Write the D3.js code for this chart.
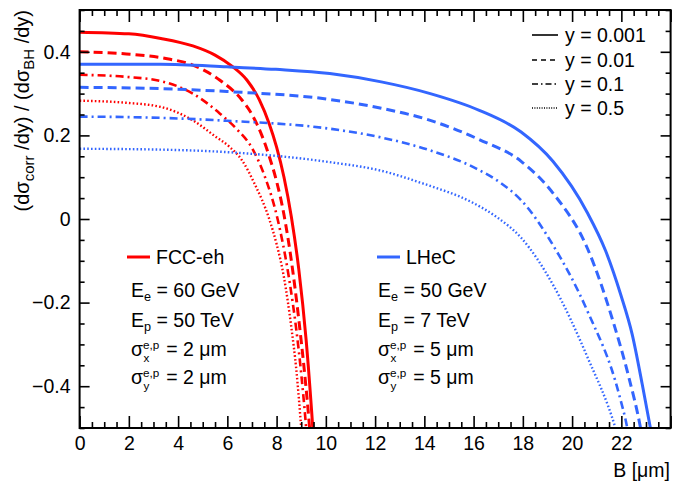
<!DOCTYPE html>
<html><head><meta charset="utf-8">
<script src="https://cdn.jsdelivr.net/npm/d3@7"></script>
<style>
body{margin:0;background:#fff}
text{font-family:"Liberation Sans",Arial,Helvetica,sans-serif;fill:#000}
</style>
</head><body>
<svg id="chart" width="675" height="482"></svg>
<script>
// ---------------- DATA ----------------
const xTickValues = [0,2,4,6,8,10,12,14,16,18,20,22];
const yTickValues = [-0.4,-0.2,0,0.2,0.4];
const yTickLabels = ["\u22120.4","\u22120.2","0","0.2","0.4"];

// FCC-eh (red)
const fccB_0001 = [0,2,3.3,4.6,5.5,6.2,6.8,7.3,7.7,8.0,8.3,8.6,8.9,9.2,9.47,9.55];
const fccV_0001 = [0.447,0.443,0.432,0.414,0.392,0.365,0.332,0.285,0.228,0.172,0.100,0.005,-0.120,-0.290,-0.500,-0.57];
const fccB_001 = [0,1.9,3.5,4.6,5.7,6.6,7.0,7.4,7.7,8.0,8.3,8.6,8.9,9.34,9.42];
const fccV_001 = [0.400,0.395,0.384,0.368,0.332,0.284,0.250,0.200,0.150,0.090,0.010,-0.100,-0.240,-0.500,-0.56];
const fccB_01 = [0,1.9,3.3,4.6,5.7,6.4,7.0,7.5,8.04,8.5,8.79,9.0,9.2,9.28];
const fccV_01 = [0.345,0.340,0.330,0.300,0.252,0.214,0.170,0.105,0.000,-0.140,-0.260,-0.370,-0.500,-0.56];
const fccB_05 = [0,1.9,3.3,4.6,5.5,6.1,6.6,7.1,7.7,8.0,8.3,8.6,8.8,9.0,9.08];
const fccV_05 = [0.283,0.278,0.268,0.236,0.198,0.172,0.140,0.085,0.000,-0.060,-0.140,-0.260,-0.360,-0.500,-0.56];

// LHeC (blue)
const lhecB_0001 = [0,3.29,5.98,7.97,10.16,12.25,14.24,16.23,17.93,19.22,20.62,21.36,21.97,22.44,22.85,23.18,23.3];
const lhecV_0001 = [0.370,0.370,0.364,0.358,0.348,0.328,0.300,0.260,0.208,0.138,0.015,-0.076,-0.180,-0.276,-0.396,-0.500,-0.54];
const lhecB_001 = [0,3.29,5.98,10.16,12.25,14.24,16.23,17.93,19.25,20.62,21.69,22.31,22.78,22.9];
const lhecV_001 = [0.315,0.312,0.305,0.286,0.265,0.236,0.190,0.138,0.060,-0.070,-0.250,-0.380,-0.500,-0.54];
const lhecB_01 = [0,3.29,5.98,10.16,12.25,14.24,16.13,17.13,17.93,19.25,20.62,21.91,22.24,22.36];
const lhecV_01 = [0.245,0.242,0.235,0.216,0.195,0.164,0.120,0.085,0.045,-0.065,-0.220,-0.420,-0.500,-0.54];
const lhecB_05 = [0,3.29,5.98,10.16,12.21,13.94,15.93,16.93,17.93,19.25,20.62,21.76,21.86];
const lhecV_05 = [0.168,0.166,0.160,0.136,0.116,0.085,0.040,0.005,-0.045,-0.160,-0.330,-0.500,-0.52];

const legendLabels = ["y = 0.001","y = 0.01","y = 0.1","y = 0.5"];

// ---------------- CHART ----------------
const svg = d3.select("#chart");
const X0 = 79.6, X1 = 670.6, Y0 = 10, Y1 = 428;
const x = d3.scaleLinear().domain([0,24]).range([X0,X1]);
const y = d3.scaleLinear().domain([-0.5,0.5]).range([Y1,Y0]);
const FS = 19.5;
const RED = "#ff0000", BLUE = "#3366ff";

const styles = [
  {dash:null, lw:3, legDash:null},
  {dash:"9,5", lw:3, legDash:"5,4"},
  {dash:"8,4,2,4", lw:2.6, legDash:"6,3,1.5,3"},
  {dash:"1.6,2.2", lw:2.4, legDash:"1,1.4"}
];

svg.append("defs").append("clipPath").attr("id","clip")
  .append("rect").attr("x",X0).attr("y",Y0).attr("width",X1-X0).attr("height",Y1-Y0);

const line = d3.line().x(d=>x(d[0])).y(d=>y(d[1])).curve(d3.curveMonotoneX);
const series = [
  [fccB_0001,fccV_0001,RED,0],[fccB_001,fccV_001,RED,1],[fccB_01,fccV_01,RED,2],[fccB_05,fccV_05,RED,3],
  [lhecB_0001,lhecV_0001,BLUE,0],[lhecB_001,lhecV_001,BLUE,1],[lhecB_01,lhecV_01,BLUE,2],[lhecB_05,lhecV_05,BLUE,3]
];
const gCurves = svg.append("g").attr("clip-path","url(#clip)");
series.forEach(([bs,vs,col,si])=>{
  const pts = bs.map((b,i)=>[b,vs[i]]);
  gCurves.append("path").datum(pts).attr("d",line)
    .attr("fill","none").attr("stroke",col).attr("stroke-width",styles[si].lw)
    .attr("stroke-dasharray",styles[si].dash);
});

// axes with inward ticks
const xMinor = d3.range(0,24.01,0.5).filter(v=>Math.abs(v/2-Math.round(v/2))>1e-6);
const yMinor = d3.range(-0.5,0.5001,0.05).map(v=>+v.toFixed(3)).filter(v=>Math.abs(v/0.2-Math.round(v/0.2))>1e-6);
const xMajAll = d3.range(0,24.01,2);

function axisG(axis, tr){ const g=svg.append("g").attr("transform",tr).call(axis); g.select(".domain").remove(); g.selectAll(".tick line").attr("stroke","#000").attr("stroke-width",1.6); return g; }
// bottom
const gb = axisG(d3.axisBottom(x).tickValues(xMajAll).tickSize(-12).tickPadding(8).tickFormat(d=> xTickValues.includes(d) ? d : ""), `translate(0,${Y1})`);
gb.selectAll("text").attr("font-size",FS).attr("font-family","Liberation Sans, Arial, sans-serif").attr("fill","#000");
axisG(d3.axisBottom(x).tickValues(xMinor).tickSize(-6).tickFormat(""), `translate(0,${Y1})`);
// top
axisG(d3.axisTop(x).tickValues(xMajAll).tickSize(-12).tickFormat(""), `translate(0,${Y0})`);
axisG(d3.axisTop(x).tickValues(xMinor).tickSize(-6).tickFormat(""), `translate(0,${Y0})`);
// left
const gl = axisG(d3.axisLeft(y).tickValues(yTickValues).tickSize(-10).tickPadding(9).tickFormat((d,i)=>yTickLabels[i]), `translate(${X0},0)`);
gl.selectAll("text").attr("font-size",FS).attr("font-family","Liberation Sans, Arial, sans-serif").attr("fill","#000");
axisG(d3.axisLeft(y).tickValues(yMinor).tickSize(-5).tickFormat(""), `translate(${X0},0)`);
// right
axisG(d3.axisRight(y).tickValues(yTickValues).tickSize(-10).tickFormat(""), `translate(${X1},0)`);
axisG(d3.axisRight(y).tickValues(yMinor).tickSize(-5).tickFormat(""), `translate(${X1},0)`);

// frame
svg.append("rect").attr("x",X0).attr("y",Y0).attr("width",X1-X0).attr("height",Y1-Y0)
  .attr("fill","none").attr("stroke","#000").attr("stroke-width",2);

// axis titles
svg.append("text").attr("x",670).attr("y",477).attr("text-anchor","end").attr("font-size",FS).text("B [\u03bcm]");
const yt = svg.append("text").attr("transform","translate(29,10) rotate(-90)").attr("text-anchor","end").attr("font-size",20);
yt.append("tspan").text("(d\u03c3");
yt.append("tspan").attr("font-size",15).attr("dy",5).text("corr");
yt.append("tspan").attr("dy",-5).text(" /dy) / (d\u03c3");
yt.append("tspan").attr("font-size",15).attr("dy",5).text("BH");
yt.append("tspan").attr("dy",-5).text(" /dy)");

// legend (top right)
const legY = [35,60,84,108];
legendLabels.forEach((lab,i)=>{
  svg.append("line").attr("x1",532).attr("x2",558).attr("y1",legY[i]).attr("y2",legY[i])
    .attr("stroke","#000").attr("stroke-width",1.6).attr("stroke-dasharray",styles[i].legDash);
  svg.append("text").attr("x",565).attr("y",legY[i]).attr("dy","0.35em").attr("font-size",FS).text(lab);
});

// text blocks
function subText(x0,yc,main,sub,rest){
  const t = svg.append("text").attr("x",x0).attr("y",yc).attr("dy","0.35em").attr("font-size",FS);
  t.append("tspan").text(main);
  t.append("tspan").attr("font-size",FS*0.65).attr("dy",4).text(sub);
  t.append("tspan").attr("dy",-4).text(rest);
}
function sigmaText(x0,yc,sub,rest){
  // one text element with superscript and subscript stacked at the same x
  const t = svg.append("text").attr("x",x0).attr("y",yc).attr("dy","0.35em").attr("font-size",FS);
  t.append("tspan").text("\u03c3");
  const w = t.node().getComputedTextLength();
  const sfs = FS*0.6;
  const supT = t.append("tspan").attr("font-size",sfs).attr("dy",-7).text("e,p");
  const ws = supT.node().getComputedTextLength();
  t.append("tspan").attr("font-size",sfs).attr("x",x0+w+0.5).attr("dy",13).text(sub);
  t.append("tspan").attr("x",x0+w+ws+1.5).attr("dy",-6).text(rest);
}
function block(xl,xt,col,name,ee,ep,sig){
  svg.append("line").attr("x1",xl).attr("x2",xl+23).attr("y1",257).attr("y2",257).attr("stroke",col).attr("stroke-width",3);
  svg.append("text").attr("x",xl+29).attr("y",257).attr("dy","0.35em").attr("font-size",FS).text(name);
  subText(xt,290,"E","e"," = "+ee);
  subText(xt,320,"E","p"," = "+ep);
  sigmaText(xt,349,"x"," = "+sig+" \u03bcm");
  sigmaText(xt,377,"y"," = "+sig+" \u03bcm");
}
block(127,131,RED,"FCC-eh","60 GeV","50 TeV","2");
block(377,378,BLUE,"LHeC","50 GeV","7 TeV","5");
</script>
</body></html>
